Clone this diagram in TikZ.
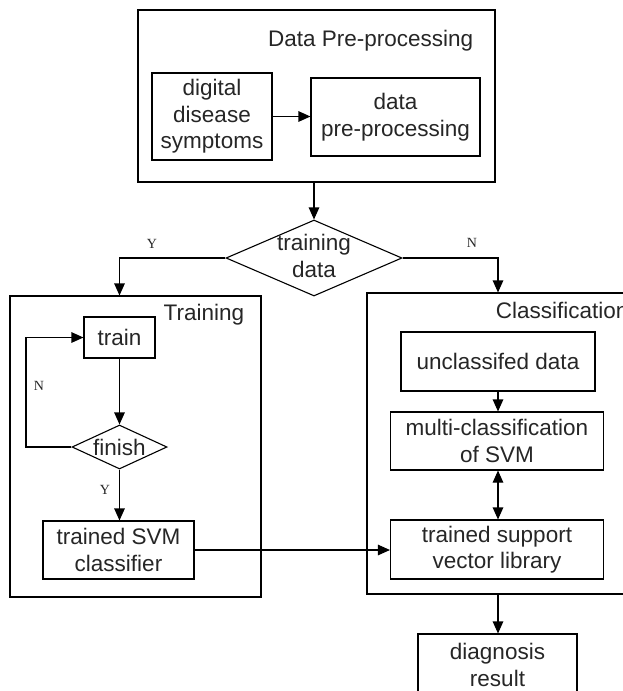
\documentclass[tikz,border=0pt]{standalone}
\usepackage{fontspec}
\setmainfont{Liberation Sans}
\newfontfamily\lblfont{Liberation Serif}
\usetikzlibrary{arrows.meta,shapes.geometric}
\begin{document}
\begin{tikzpicture}[x=1pt,y=-1pt,
  line width=1.1pt,
  every node/.style={font=\fontsize{22.5}{26.5}\selectfont, text=black!85},
  boxnode/.style={draw, rectangle, inner sep=0pt, align=center},
  frame/.style={draw, rectangle, inner sep=0pt},
  dmd/.style={draw, diamond, inner sep=0pt},
  arr/.style={-{Triangle[length=12pt,width=10.5pt]}},
  darr/.style={{Triangle[length=12pt,width=10.5pt]}-{Triangle[length=12pt,width=10.5pt]}},
  yn/.style={font=\lblfont\fontsize{14}{16}\selectfont}
]
\useasboundingbox (0,0) rectangle (622,691);
% frames
\node[frame, minimum width=357pt, minimum height=172pt] (top) at (316.5,96) {};
\node[frame, minimum width=251pt, minimum height=301pt] (trbox) at (135.5,446.5) {};
\node[frame, minimum width=273pt, minimum height=301pt] (clbox) at (503.5,443.5) {};
\node[anchor=base east] (ttop) at (477,46) {Data Pre-processing};
\node[anchor=base east] (ttr) at (248,320) {Training};
\node[anchor=base west] (tcl) at (492,318) {Classification};
% top nodes
\node[boxnode, minimum width=120pt, minimum height=87pt] (dds) at (212,116.5) {digital\\disease\\symptoms};
\node[boxnode, minimum width=169pt, minimum height=78pt] (dpp) at (395.5,117) {data\\pre-processing};
% decision
\node[dmd, minimum width=176pt, minimum height=76pt] (td) at (314,258) {};
\node[align=center] (tdt) at (314,256) {training\\data};
% training
\node[boxnode, minimum width=71pt, minimum height=41pt] (train) at (119.5,337.5) {train};
\node[dmd, minimum width=95pt, minimum height=44pt] (fin) at (119.5,447) {};
\node (fint) at (119.5,447) {finish};
\node[boxnode, minimum width=151pt, minimum height=58pt] (svm) at (118.5,550) {trained SVM\\classifier};
\coordinate (loopx) at (26,447);
% classification
\node[boxnode, minimum width=194pt, minimum height=59pt] (unc) at (498,361.5) {unclassifed data};
\node[boxnode, minimum width=213pt, minimum height=58pt] (multi) at (497,441) {multi-classification\\of SVM};
\node[boxnode, minimum width=213pt, minimum height=59pt] (lib) at (497,549.5) {trained support\\vector library};
\node[boxnode, minimum width=159pt, minimum height=62pt] (diag) at (497.5,665) {diagnosis\\result};
% connectors
\draw[arr] (dds.east) -- (dds.east -| dpp.west);
\draw[arr] (top.south -| td.north) -- (td.north);
\draw[arr] (td.west) -| (train |- trbox.north);
\draw[arr] (td.east) -| (unc |- clbox.north);
\draw[arr] (train.south) -- (fin.north);
\draw[arr] (fin.west) -- (loopx) |- (train.west);
\draw[arr] (fin.south) -- (fin.south |- svm.north);
\draw[arr] (svm.east) -- (svm.east -| lib.west);
\draw[arr] (unc.south) -- (unc.south |- multi.north);
\draw[darr] (unc.south |- multi.south) -- (unc.south |- lib.north);
\draw[arr] (unc.south |- clbox.south) -- (unc.south |- diag.north);
% labels
\node[yn] (ly1) at (152,244) {Y};
\node[yn] (ln1) at (472,243) {N};
\node[yn] (ln2) at (39,386) {N};
\node[yn] (ly2) at (105,490) {Y};
\end{tikzpicture}
\end{document}
